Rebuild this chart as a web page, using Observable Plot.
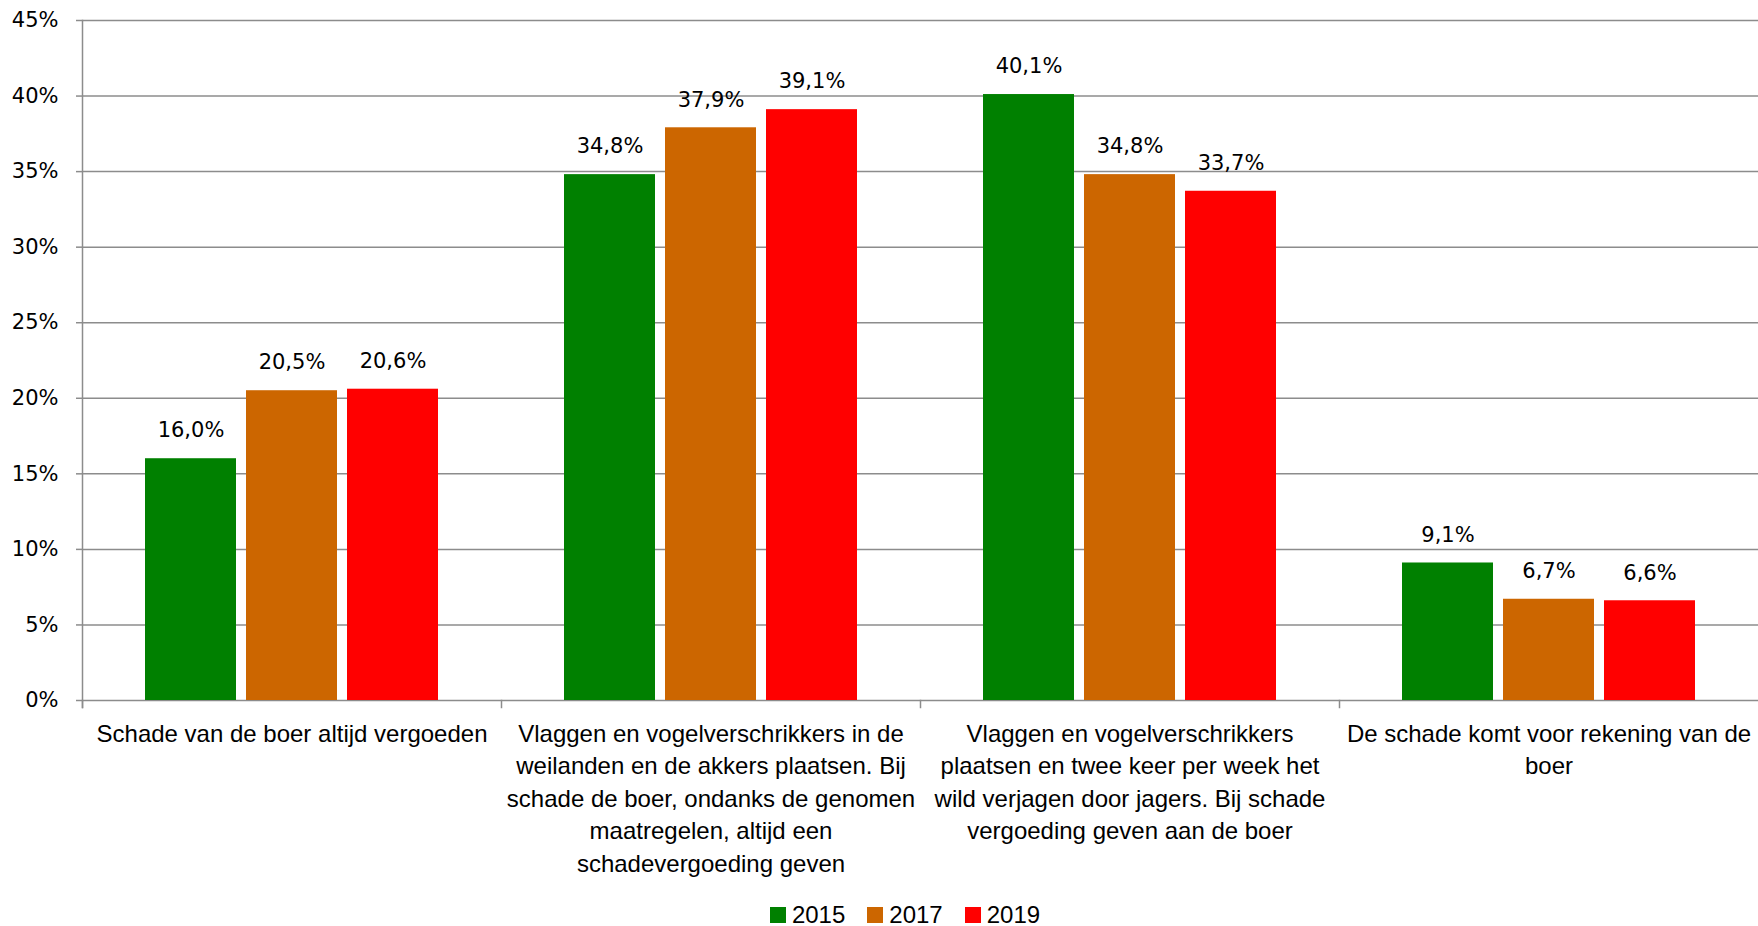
<!DOCTYPE html>
<html><head><meta charset="utf-8">
<script src="https://cdn.jsdelivr.net/npm/d3@7"></script>
<script src="https://cdn.jsdelivr.net/npm/@observablehq/plot@0.6"></script>
<style>
body{margin:0;background:#fff;}
#legend{display:flex;justify-content:center;align-items:center;margin-top:1px;padding-left:52px;font-family:"Liberation Sans",Arial,sans-serif;font-size:24px;color:#000;height:28px;}
#legend .item{display:flex;align-items:center;margin:0 11px;}
#legend .sw{width:16px;height:16px;margin-right:6px;display:inline-block;}
</style>
</head><body>
<div id="chart"></div>
<div id="legend"></div>
<script>
const categories = [
  "Schade van de boer altijd vergoeden",
  "Vlaggen en vogelverschrikkers in de\nweilanden en de akkers plaatsen. Bij\nschade de boer, ondanks de genomen\nmaatregelen, altijd een\nschadevergoeding geven",
  "Vlaggen en vogelverschrikkers\nplaatsen en twee keer per week het\nwild verjagen door jagers. Bij schade\nvergoeding geven aan de boer",
  "De schade komt voor rekening van de\nboer"
];
const years = ["2015", "2017", "2019"];
const colors = ["#008000", "#CC6600", "#FF0000"];
const values2015 = [16.0, 34.8, 40.1, 9.1];
const values2017 = [20.5, 37.9, 34.8, 6.7];
const values2019 = [20.6, 39.1, 33.7, 6.6];
const yTicks = [0, 5, 10, 15, 20, 25, 30, 35, 40, 45];

const series = [values2015, values2017, values2019];
const data = categories.flatMap((c, i) => years.map((y, j) => ({category: c, year: y, value: series[j][i]})));
const fmt = v => v.toFixed(1).replace(".", ",") + "%";
const gridColor = "#8c8c8c";

const chart = Plot.plot({
  width: 1758, height: 900,
  marginLeft: 82, marginRight: 0, marginTop: 20, marginBottom: 200,
  style: {background: "#fff", color: "#000"},
  fx: {domain: categories, padding: 0},
  x: {domain: years, paddingInner: 0.1, paddingOuter: 0.62, axis: null},
  y: {domain: [0, 45]},
  color: {domain: years, range: colors},
  marks: [
    Plot.ruleY(yTicks, {stroke: gridColor, strokeWidth: 1.5}),
    Plot.barY(data, {fx: "category", x: "year", y: "value", fill: "year"}),
    Plot.text(data, {fx: "category", x: "year", y: "value", text: d => fmt(d.value), dy: -28, fontSize: 21, fontFamily: "DejaVu Sans", fill: "#000"}),
    Plot.axisY(yTicks, {tickSize: 6, tickPadding: 18, stroke: gridColor, strokeWidth: 1.5, fill: "#000", tickFormat: d => d + "%", fontSize: 21, fontFamily: "DejaVu Sans", label: null}),
    Plot.axisFx({anchor: "bottom", tickSize: 0, tickPadding: 18, lineAnchor: "top", lineHeight: 1.354, fontSize: 24, fontFamily: "Liberation Sans", fill: "#000", label: null}),
    Plot.frame({anchor: "left", fx: () => categories[0], insetBottom: -7, stroke: gridColor, strokeWidth: 1.5}),
    Plot.frame({anchor: "left", insetTop: 680, insetBottom: -7, stroke: gridColor, strokeWidth: 1.5})
  ]
});
document.getElementById("chart").appendChild(chart);

const legend = document.getElementById("legend");
years.forEach((y, i) => {
  const item = document.createElement("div");
  item.className = "item";
  item.innerHTML = `<span class="sw" style="background:${colors[i]}"></span><span>${y}</span>`;
  legend.appendChild(item);
});
</script>
</body></html>
